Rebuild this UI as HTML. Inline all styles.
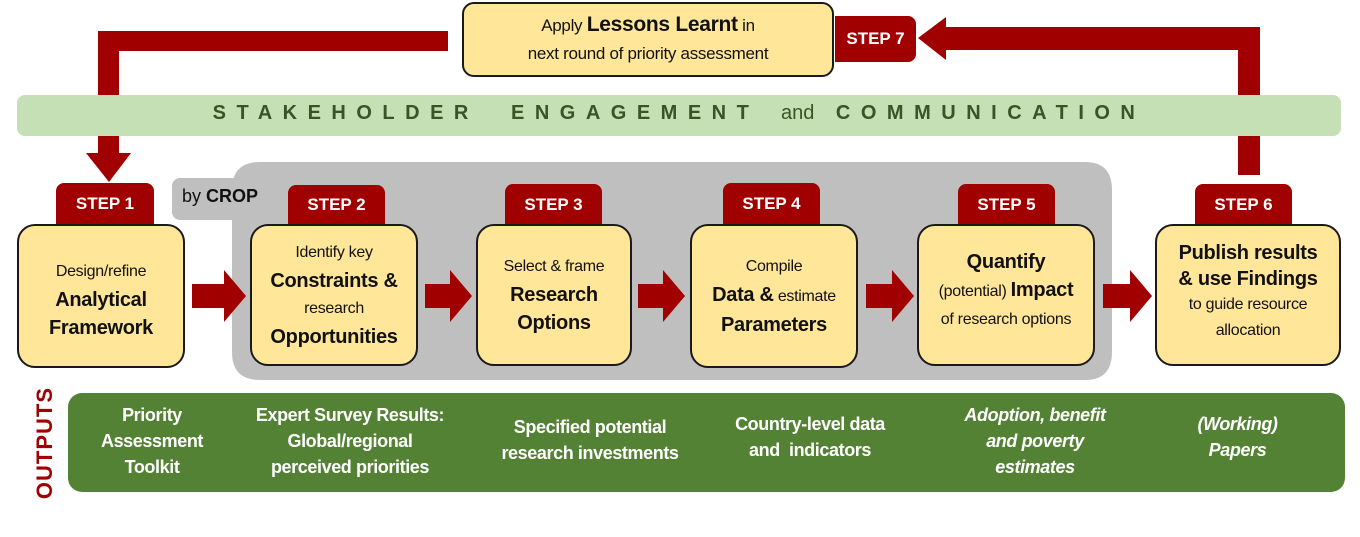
<!DOCTYPE html>
<html><head><meta charset="utf-8"><style>
*{margin:0;padding:0;box-sizing:border-box}
body{width:1360px;height:537px;background:#fff;position:relative;overflow:hidden;font-family:"Liberation Sans",sans-serif}
.a{position:absolute}
.box{position:absolute;background:#ffe699;border:2px solid #1a1a1a;border-radius:18px;display:flex;flex-direction:column;justify-content:center;align-items:center;text-align:center;color:#111;font-size:16px;line-height:28px;letter-spacing:-0.3px}
.box b{font-size:20px}
.tab{position:absolute;background:#a00000;color:#fff;font-weight:bold;font-size:17px;border-radius:8px 8px 0 0;display:flex;align-items:center;justify-content:center}
.out{position:absolute;color:#fff;font-weight:bold;font-size:18px;text-align:center;line-height:26px;letter-spacing:-0.4px}
</style></head><body>
<svg class="a" style="left:0;top:0" width="1360" height="537">
<path d="M448,31 H98 V153 H86 L109,182 L131,153 H119 V51 H448 Z" fill="#a00000"/>
<path d="M1238,175 V50 H946 V60 L918,38 L946,17 V27 H1260 V175 Z" fill="#a00000"/>
<rect x="17" y="95" width="1324" height="41" rx="8" fill="#c5e0b4"/>
<path d="M232,190 Q232,162 260,162 H1085 Q1112,162 1112,190 V352 Q1112,380 1085,380 H260 Q232,380 232,352 Z" fill="#bfbfbf"/>
<rect x="172" y="178" width="80" height="42" rx="8" fill="#bfbfbf"/>
<rect x="68" y="393" width="1277" height="99" rx="14" fill="#548235"/>
<g fill="#a00000">
<path d="M192,284 H224 V270 L246,296 L224,322 V308 H192 Z"/>
<path d="M425,284 H450 V270 L472,296 L450,322 V308 H425 Z"/>
<path d="M638,284 H663 V270 L685,296 L663,322 V308 H638 Z"/>
<path d="M866,284 H892 V270 L914,296 L892,322 V308 H866 Z"/>
<path d="M1103,284 H1130 V270 L1152,296 L1130,322 V308 H1103 Z"/>
</g>
</svg>
<div class="a" style="left:17px;top:102px;width:1324px;text-align:center;color:#375623;font-size:20px;font-weight:bold;letter-spacing:10.5px;white-space:nowrap">STAKEHOLDER&nbsp; ENGAGEMENT <span style="font-weight:normal;letter-spacing:0">&nbsp;and&nbsp;</span> COMMUNICATION</div>
<div class="a" style="left:182px;top:186px;font-size:18px;color:#111">by <b>CROP</b></div>
<div class="box" style="left:462px;top:2px;width:372px;height:75px;border-radius:12px;line-height:28px;font-size:17px"><div>Apply <b style="font-size:21px">Lessons Learnt</b> in</div><div>next round of priority assessment</div></div>
<div class="tab" style="left:835px;top:16px;width:81px;height:46px;border-radius:0 8px 8px 0">STEP 7</div>
<div class="tab" style="left:56px;top:183px;width:98px;height:42px">STEP 1</div>
<div class="tab" style="left:288px;top:185px;width:97px;height:40px">STEP 2</div>
<div class="tab" style="left:505px;top:184px;width:97px;height:41px">STEP 3</div>
<div class="tab" style="left:723px;top:183px;width:97px;height:42px">STEP 4</div>
<div class="tab" style="left:958px;top:184px;width:97px;height:41px">STEP 5</div>
<div class="tab" style="left:1195px;top:184px;width:97px;height:41px">STEP 6</div>
<div class="box" style="left:17px;top:224px;width:168px;height:144px;padding-top:8px"><div>Design/refine</div><b>Analytical</b><b>Framework</b></div>
<div class="box" style="left:250px;top:224px;width:168px;height:142px"><div>Identify key</div><b>Constraints &amp;</b><div>research</div><b>Opportunities</b></div>
<div class="box" style="left:476px;top:224px;width:156px;height:142px"><div>Select &amp; frame</div><b>Research</b><b>Options</b></div>
<div class="box" style="left:690px;top:224px;width:168px;height:144px"><div>Compile</div><div><b>Data &amp;</b> estimate</div><b>Parameters</b></div>
<div class="box" style="left:917px;top:224px;width:178px;height:142px;padding-bottom:8px"><b>Quantify</b><div>(potential) <b>Impact</b></div><div>of research options</div></div>
<div class="box" style="left:1155px;top:224px;width:186px;height:142px;line-height:26px;padding-bottom:6px"><b>Publish results</b><b>&amp; use Findings</b><div>to guide resource</div><div>allocation</div></div>
<div class="a" style="left:45px;top:443px;transform:translate(-50%,-50%) rotate(-90deg);color:#a00000;font-weight:bold;font-size:22px;letter-spacing:1px">OUTPUTS</div>
<div class="out" style="left:82px;top:402px;width:140px">Priority<br>Assessment<br>Toolkit</div>
<div class="out" style="left:230px;top:402px;width:240px">Expert Survey Results:<br>Global/regional<br>perceived priorities</div>
<div class="out" style="left:480px;top:414px;width:220px">Specified potential<br>research investments</div>
<div class="out" style="left:705px;top:411px;width:210px">Country-level data<br>and&nbsp; indicators</div>
<div class="out" style="left:930px;top:402px;width:210px;font-style:italic">Adoption, benefit<br>and poverty<br>estimates</div>
<div class="out" style="left:1150px;top:411px;width:175px;font-style:italic">(Working)<br>Papers</div>
</body></html>
